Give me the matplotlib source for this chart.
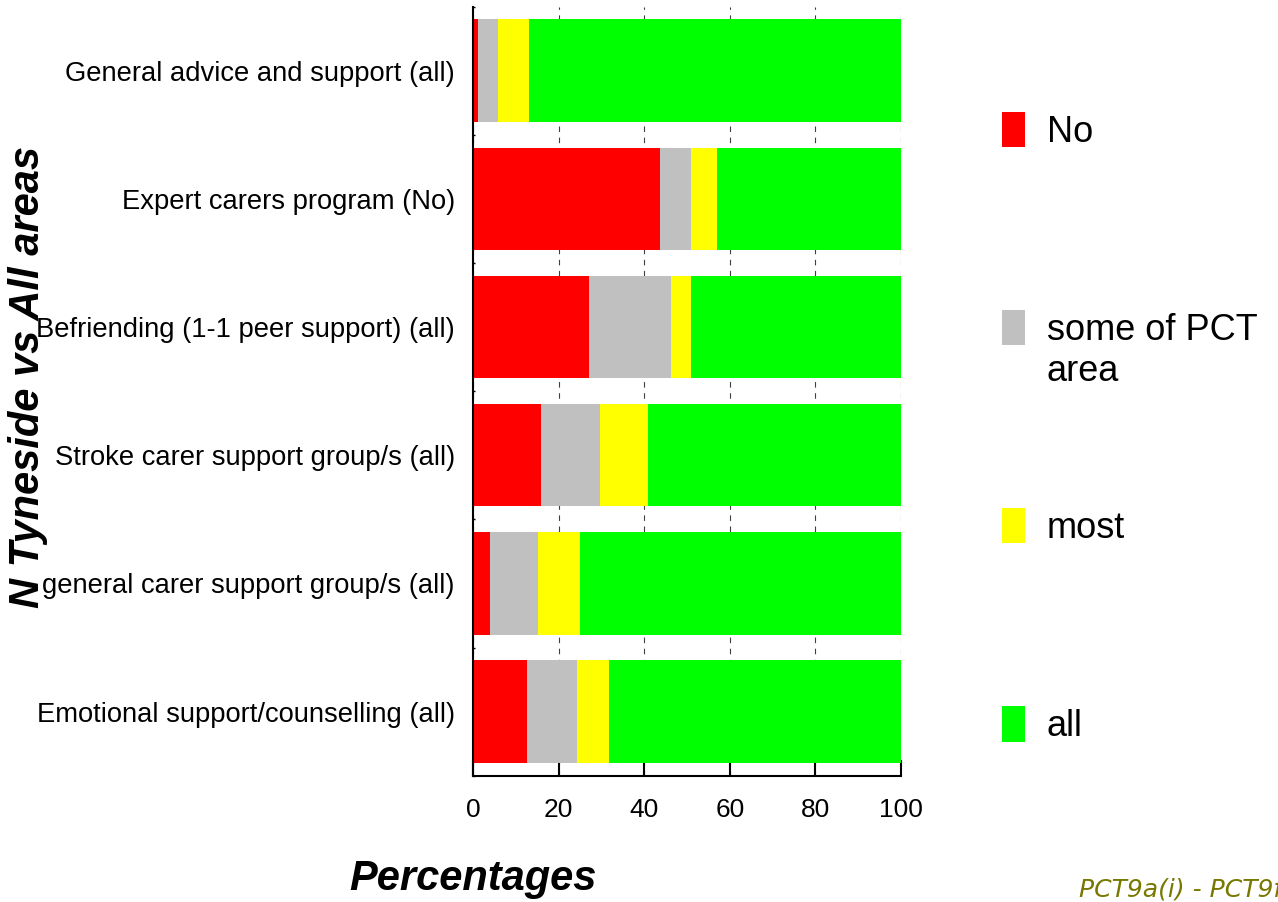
import numpy as np
import matplotlib
matplotlib.use("Agg")
import matplotlib.pyplot as plt
from matplotlib.ticker import FixedLocator

categories = [
    "General advice and support (all)",
    "Expert carers program (No)",
    "Befriending (1-1 peer support) (all)",
    "Stroke carer support group/s (all)",
    "general carer support group/s (all)",
    "Emotional support/counselling (all)",
]
series_names = ["No", "some of PCT", "most", "all"]
no_vals = [1.1, 43.6, 27.2, 15.8, 4.0, 12.6]
some_vals = [4.7, 7.3, 19.1, 13.9, 11.2, 11.8]
most_vals = [7.3, 6.0, 4.6, 11.3, 9.9, 7.3]
all_vals = [86.9, 43.1, 49.1, 59.0, 74.9, 68.3]
colors = ["#FF0000", "#C0C0C0", "#FFFF00", "#00FF00"]
x_ticks = [0, 20, 40, 60, 80, 100]

plt.rcParams['font.family'] = ['Liberation Sans', 'DejaVu Sans']

W, H = 1278, 902
fig = plt.figure(figsize=(W / 100, H / 100), dpi=100)
ax = fig.add_axes([473/W, 1-775.7/H, 428/W, (775.7-6.5)/H])

ypos = np.arange(len(categories))
left = np.zeros(len(categories))
handles = []
for name, vals, c in zip(series_names, [no_vals, some_vals, most_vals, all_vals], colors):
    b = ax.barh(ypos, vals, left=left, height=0.8, color=c, edgecolor='none', label=name, zorder=2)
    handles.append(b)
    left = left + np.array(vals)

ax.set_xlim(0, 100)
ax.set_ylim(len(categories) - 0.5, -0.5)
ax.set_xticks(x_ticks)
ax.set_yticks(ypos)
ax.set_yticklabels(categories, fontsize=19.7)
ax.yaxis.set_minor_locator(FixedLocator(np.arange(-0.5, len(categories), 1.0)))
ax.tick_params(axis='y', which='major', length=0, pad=13)
ax.tick_params(axis='y', which='minor', direction='in', length=1.5, width=1)
ax.tick_params(axis='x', which='major', direction='in', length=11.5, width=1.5, labelsize=19, pad=16)

ax.grid(axis='x', linestyle=(0, (5, 5)), color='#404040', linewidth=0.8, zorder=0)
ax.set_axisbelow(True)

for s in ['top', 'right']:
    ax.spines[s].set_visible(False)
for s in ['left', 'bottom']:
    ax.spines[s].set_linewidth(1.5)

ax.set_xlabel("Percentages", fontsize=30, fontweight='bold', fontstyle='italic')
ax.xaxis.label.set_va('center')
ax.xaxis.set_label_coords(0.0, -0.134)
ax.set_ylabel("N Tyneside vs All areas", fontsize=30, fontweight='bold', fontstyle='italic')
ax.yaxis.label.set_va('center')
ax.yaxis.set_label_coords(-1.040, 0.5177)

leg = fig.legend(handles=handles, labels=series_names, loc='upper left',
                 bbox_to_anchor=(1002/W, 1-112/H), frameon=False,
                 fontsize=26, handlelength=0.64, handleheight=1.12,
                 handletextpad=0.6, labelspacing=4.44, borderpad=0, borderaxespad=0)

# second line of the "some of PCT area" label, placed directly under the first line
fig.canvas.draw()
bb = leg.texts[1].get_window_extent()
fig.text(bb.x0 / W, (bb.y0 - 6) / H, "area", fontsize=26, va='top', ha='left')

fig.text(1079/W, 1-897/H, "PCT9a(i) - PCT9f(i)", fontsize=18, fontstyle='italic',
         family=['DejaVu Sans'], color='#787800', va='baseline', ha='left')

fig.savefig("out.png", dpi=100)
